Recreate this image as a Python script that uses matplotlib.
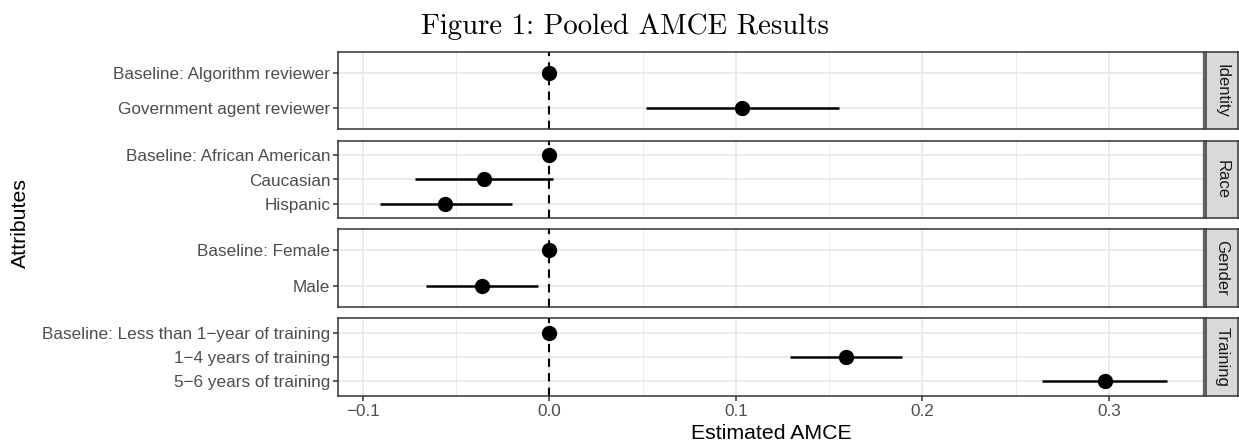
import matplotlib.pyplot as plt
from matplotlib.ticker import MultipleLocator

# Data

attributes = ["Identity", "Race", "Gender", "Training"]
levels = [
    ["Baseline: Algorithm reviewer", "Government agent reviewer"],
    ["Baseline: African American", "Caucasian", "Hispanic"],
    ["Baseline: Female", "Male"],
    ["Baseline: Less than 1\u2212year of training", "1\u22124 years of training", "5\u22126 years of training"],
]
estimates = [[0.0, 0.103], [0.0, -0.035, -0.056], [0.0, -0.036], [0.0, 0.159, 0.298]]
lower = [[0.0, 0.052], [0.0, -0.072, -0.091], [0.0, -0.066], [0.0, 0.129, 0.264]]
upper = [[0.0, 0.155], [0.0, 0.002, -0.020], [0.0, -0.006], [0.0, 0.189, 0.331]]

# Style

plt.rcParams['font.family'] = ['Liberation Sans', 'DejaVu Sans']
plt.rcParams['axes.unicode_minus'] = True

W, H = 1239, 444
fig = plt.figure(figsize=(W / 100, H / 100), dpi=100)

panel_px = [(52, 129), (141, 218), (229, 307), (318, 396)]
left_px, right_px = 338, 1204
strip_px = (1206, 1238)
border = '#333333'
grid = '#EBEBEB'
tick_size = 12.3

for i, att in enumerate(attributes):
    top, bot = panel_px[i]
    ax = fig.add_axes([left_px / W, 1 - bot / H, (right_px - left_px) / W, (bot - top) / H])
    n = len(levels[i])
    ypos = list(range(n))

    ax.set_xlim(-0.1134, 0.351)
    ax.set_ylim(n - 1 + 0.6, -0.6)
    ax.xaxis.set_major_locator(MultipleLocator(0.1))
    ax.xaxis.set_minor_locator(MultipleLocator(0.05))
    ax.set_yticks(ypos)
    ax.set_yticklabels(levels[i])

    ax.set_axisbelow(True)
    ax.grid(which='major', color=grid, lw=1.4)
    ax.grid(which='minor', axis='x', color=grid, lw=0.7)

    ax.axvline(0, color='black', ls=(0, (4, 3)), lw=1.5, zorder=2)
    ax.hlines(ypos, lower[i], upper[i], color='black', lw=1.8, zorder=3)
    ax.plot(estimates[i], ypos, 'o', color='black', ms=10, zorder=4)

    for s in ax.spines.values():
        s.set_color(border)
        s.set_linewidth(1.1)

    ax.tick_params(axis='y', length=3.5, width=1.1, color=border, labelcolor='#4D4D4D',
                   labelsize=tick_size, pad=2)
    ax.tick_params(axis='x', which='minor', length=0)
    if i < len(attributes) - 1:
        ax.tick_params(axis='x', which='major', length=0, labelbottom=False)
    else:
        ax.tick_params(axis='x', which='major', length=3.5, width=1.1, color=border,
                       labelcolor='#4D4D4D', labelsize=tick_size, pad=2)

    # facet strip on the right
    sx = fig.add_axes([strip_px[0] / W, 1 - bot / H, (strip_px[1] - strip_px[0]) / W, (bot - top) / H])
    sx.set_facecolor('#D9D9D9')
    sx.set_xticks([])
    sx.set_yticks([])
    for s in sx.spines.values():
        s.set_color(border)
        s.set_linewidth(1.1)
    sx.text(0.5, 0.5, att, rotation=270, ha='center', va='center', fontsize=12,
            color='#1A1A1A', transform=sx.transAxes)

fig.text(20 / W, 1 - 223 / H, 'Attributes', rotation=90, ha='center', va='center', fontsize=15.3)
fig.text((left_px + right_px) / 2 / W, 1 - 433 / H, 'Estimated AMCE', ha='center', va='center',
         fontsize=15.3)
fig.text(625 / W, 1 - 34 / H, 'Figure 1: Pooled AMCE Results', ha='center', va='baseline',
         fontsize=20.8, family='cmr10')

fig.savefig('out.png', dpi=100)
